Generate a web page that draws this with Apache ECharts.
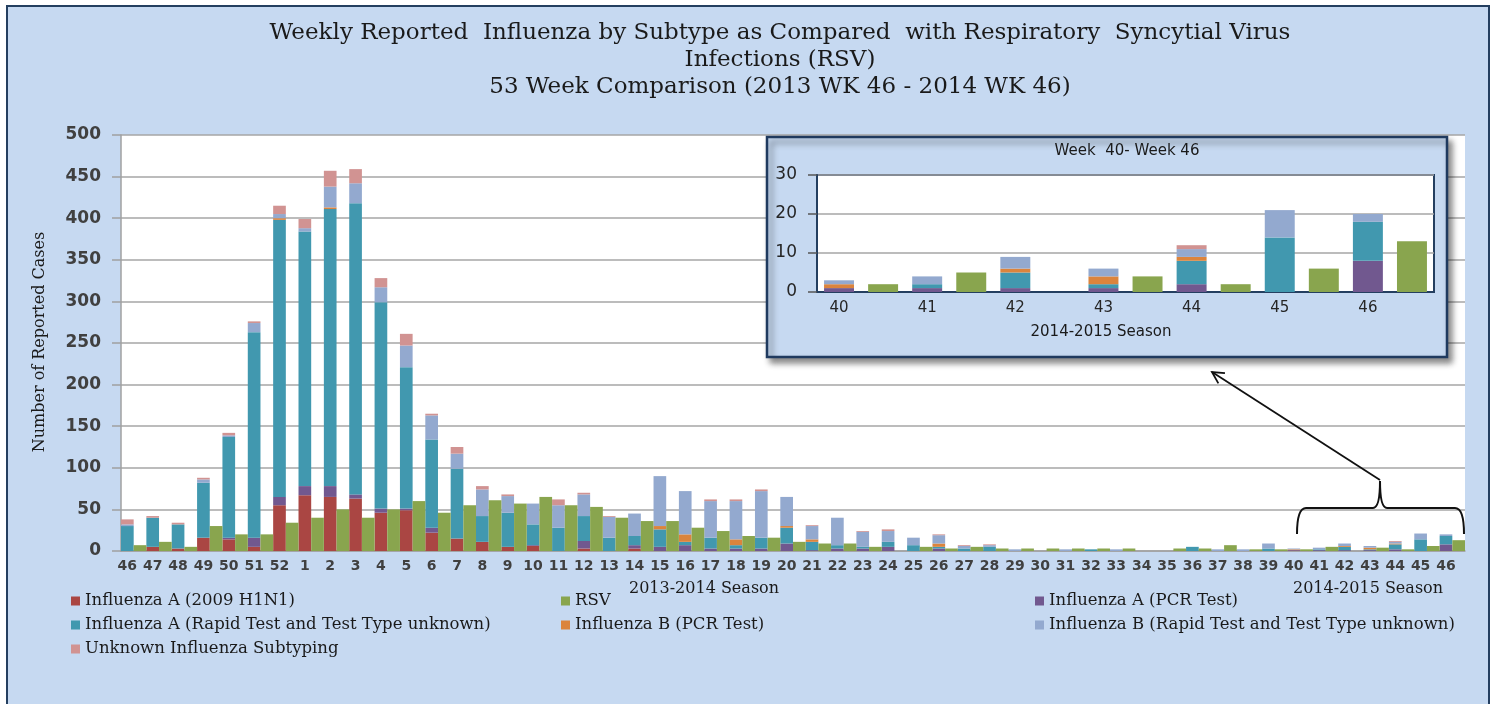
<!DOCTYPE html>
<html><head><meta charset="utf-8">
<script src="https://cdn.jsdelivr.net/npm/echarts@6/dist/echarts.min.js"></script>
<style>
html,body{margin:0;padding:0;background:#fff;width:1496px;height:704px;overflow:hidden;}
#frame{position:absolute;left:6px;top:5px;width:1480px;height:720px;background:#C6D9F1;border:2px solid #243F60;}
#chart{position:absolute;left:0;top:0;width:1496px;height:704px;}
</style></head><body><div id="frame"></div><div id="chart"></div>
<script>
// ---- DATA ----
const weeks = [46,47,48,49,50,51,52,1,2,3,4,5,6,7,8,9,10,11,12,13,14,15,16,17,18,19,20,21,22,23,24,25,26,27,28,29,30,31,32,33,34,35,36,37,38,39,40,41,42,43,44,45,46];
const h1n1 =    [0,5,3,16,14,5,55, 67,65,63,46,49,22,15,11,5,6,0,3,0,3,0,0,0,0,0,0,0,0,0,0,0,0,0,0,0,0,0,0,0,0,0,0,0,0,0,0,0,0,0,0,0,0];
const pcrA =    [0,0,0,0,2,11,10, 11,13,5,5,2,6,0,0,0,1,0,9,0,4,5,7,3,3,3,9,1,3,3,5,0,3,0,0,0,0,0,0,0,0,0,0,0,0,0,1,1,1,1,2,0,8];
const rapidA =  [30,35,29,66,121,247,333, 306,333,350,248,170,106,84,31,41,25,28,30,16,11,21,4,13,4,13,19,10,4,2,6,7,2,3,5,0,0,0,2,0,0,0,5,0,0,3,0,1,4,1,6,14,10];
const pcrB =    [0,0,0,0,0,0,2, 0,2,0,0,0,0,0,0,0,0,0,0,0,0,4,9,0,7,0,2,3,0,0,0,0,4,0,0,0,0,0,0,0,0,0,0,0,0,0,1,0,1,2,1,0,0];
const rapidB =  [2,0,0,4,2,11,5, 4,25,24,18,26,29,18,32,20,25,27,26,25,27,60,52,44,46,56,35,16,33,18,13,9,10,3,2,2,0,2,0,2,0,0,0,2,2,6,1,2,3,2,2,7,2];
const unknownS =[6,2,2,2,3,2,10, 11,19,17,11,14,2,8,4,2,0,7,2,1,0,0,0,2,2,2,0,1,0,1,2,0,1,1,1,0,0,0,0,0,0,0,0,0,0,0,0,0,0,0,1,0,0];
const rsv =     [7,11,5,30,20,20,34, 40,50,40,50,60,46,55,61,57,65,55,53,40,36,36,28,24,18,16,11,9,9,5,0,5,3,5,3,3,3,3,3,3,0,3,3,7,2,2,2,5,0,4,2,6,13];
const yTicksMain = {min:0, max:500, interval:50};
const yTicksInset = {min:0, max:30, interval:10};
const insetCount = 7; // weeks 40-46 of the 2014-2015 season

const names = ['Influenza A (2009 H1N1)','Influenza A (PCR Test)','Influenza A (Rapid Test and Test Type unknown)','Influenza B (PCR Test)','Influenza B (Rapid Test and Test Type unknown)','Unknown Influenza Subtyping','RSV'];
const colors = ['#AA4643','#71588F','#4198AF','#DB843D','#93A9CF','#D19392','#89A54E'];
const fluArrays = [h1n1,pcrA,rapidA,pcrB,rapidB,unknownS];

// ---- BUILD ----
const slotLabels = weeks.flatMap(w => [String(w), '']);
const insetWeeks = weeks.slice(-insetCount);
const insetLabels = insetWeeks.flatMap(w => [String(w), '']);

const series = [];
fluArrays.forEach((arr,i) => {
  series.push({name:names[i], type:'bar', stack:'main', xAxisIndex:0, yAxisIndex:0,
    barCategoryGap:'0%', barGap:'0%', itemStyle:{color:colors[i]},
    data: arr.flatMap(v => [v,'-'])});
});
series.push({name:'RSV', type:'bar', stack:'main', xAxisIndex:0, yAxisIndex:0,
  barCategoryGap:'0%', barGap:'0%', itemStyle:{color:colors[6]},
  data: rsv.flatMap(v => ['-',v])});
fluArrays.forEach((arr,i) => {
  series.push({name:names[i], type:'bar', stack:'inset', xAxisIndex:1, yAxisIndex:1, z:13,
    barCategoryGap:'32%', itemStyle:{color:colors[i]},
    data: arr.slice(-insetCount).flatMap(v => [v,'-'])});
});
series.push({name:'RSV', type:'bar', stack:'inset', xAxisIndex:1, yAxisIndex:1, z:13,
  barCategoryGap:'32%', itemStyle:{color:colors[6]},
  data: rsv.slice(-insetCount).flatMap(v => ['-',v])});

const serif = 'DejaVu Serif';
const sans = 'DejaVu Sans';
const legendCommon = {orient:'vertical', icon:'rect', itemWidth:9, itemHeight:9, itemGap:6, selectedMode:false,
  textStyle:{fontFamily:serif, fontSize:16.5, color:'#1a1a1a', lineHeight:18}};

// arrow
const tail = [1380, 480], head = [1212, 372];
const dx = tail[0]-head[0], dy = tail[1]-head[1], L = Math.hypot(dx,dy);
const ux = dx/L, uy = dy/L, ang = 28*Math.PI/180, wl = 13;
function rot(x,y,a){return [x*Math.cos(a)-y*Math.sin(a), x*Math.sin(a)+y*Math.cos(a)];}
const w1 = rot(ux,uy,ang), w2 = rot(ux,uy,-ang);
const inkStyle = {fill:null, stroke:'#111', lineWidth:2};

const option = {
  animation:false,
  backgroundColor:'transparent',
  grid:[
    {left:121, top:135, width:1344, height:416, show:true, backgroundColor:'#ffffff', borderWidth:0, z:0},
    {left:817, top:175, width:617, height:117, show:true, backgroundColor:'#ffffff', borderColor:'#243F60', borderWidth:2, z:11}
  ],
  xAxis:[
    {type:'category', gridIndex:0, data:slotLabels, axisTick:{show:false},
     axisLine:{lineStyle:{color:'#A0A0A0', width:1.5}},
     axisLabel:{interval:0, margin:8, fontFamily:sans, fontSize:14, fontWeight:'bold', color:'#404040'}},
    {type:'category', gridIndex:1, data:insetLabels, axisTick:{show:false}, z:12,
     axisLine:{lineStyle:{color:'#243F60', width:2}},
     axisLabel:{interval:0, margin:9, fontFamily:sans, fontSize:15, color:'#262626'}}
  ],
  yAxis:[
    {type:'value', gridIndex:0, min:yTicksMain.min, max:yTicksMain.max, interval:yTicksMain.interval,
     axisLine:{show:true, lineStyle:{color:'#A0A0A0', width:1.5}},
     axisTick:{show:true, length:9, lineStyle:{color:'#A0A0A0', width:1.5}},
     splitLine:{lineStyle:{color:'#A6A6A6', width:1.5}},
     axisLabel:{margin:20, fontFamily:sans, fontSize:17, fontWeight:'bold', color:'#404040'}},
    {type:'value', gridIndex:1, min:yTicksInset.min, max:yTicksInset.max, interval:yTicksInset.interval, z:12,
     axisLine:{show:true, lineStyle:{color:'#243F60', width:2}},
     axisTick:{show:true, length:9, lineStyle:{color:'#555', width:1.5}},
     splitLine:{lineStyle:{color:'#A6A6A6', width:1.5}},
     axisLabel:{margin:20, fontFamily:sans, fontSize:17, color:'#262626'}}
  ],
  legend:[
    Object.assign({left:66, top:587, data:[names[0],names[2],names[5]]}, legendCommon),
    Object.assign({left:556, top:587, data:[names[6],names[3]]}, legendCommon),
    Object.assign({left:1030, top:587, data:[names[1],names[4]]}, legendCommon)
  ],
  graphic:[
    {type:'text', z:20, style:{x:780, y:60, text:'Weekly Reported  Influenza by Subtype as Compared  with Respiratory  Syncytial Virus\nInfections (RSV)\n53 Week Comparison (2013 WK 46 - 2014 WK 46)',
      textAlign:'center', textVerticalAlign:'middle', font:'23px "DejaVu Serif"', lineHeight:27, fill:'#1a1a1a'}},
    {type:'text', z:20, x:40, y:342, rotation:Math.PI/2, style:{x:0, y:0, text:'Number of Reported Cases', textAlign:'center', textVerticalAlign:'middle', font:'16px "DejaVu Serif"', fill:'#1a1a1a'}},
    {type:'text', z:20, style:{x:704, y:589, text:'2013-2014 Season', textAlign:'center', textVerticalAlign:'middle', font:'16px "DejaVu Serif"', fill:'#1a1a1a'}},
    {type:'text', z:20, style:{x:1368, y:589, text:'2014-2015 Season', textAlign:'center', textVerticalAlign:'middle', font:'16px "DejaVu Serif"', fill:'#1a1a1a'}},
    {type:'rect', z:10, shape:{x:767, y:137, width:680, height:220}, style:{fill:'#C6D9F1', stroke:'#1F3A5F', lineWidth:2.5, shadowBlur:6, shadowOffsetX:4, shadowOffsetY:5, shadowColor:'rgba(0,0,0,0.45)'}},
    {type:'text', z:14, style:{x:1127, y:151, text:'Week  40- Week 46', textAlign:'center', textVerticalAlign:'middle', font:'15px "DejaVu Sans"', fill:'#1a1a1a'}},
    {type:'text', z:14, style:{x:1101, y:332, text:'2014-2015 Season', textAlign:'center', textVerticalAlign:'middle', font:'15px "DejaVu Sans"', fill:'#1a1a1a'}},
    {type:'bezierCurve', z:15, shape:{x1:1297, y1:534, x2:1306, y2:508, cpx1:1297, cpy1:508}, style:inkStyle},
    {type:'line', z:15, shape:{x1:1306, y1:508, x2:1373, y2:508}, style:inkStyle},
    {type:'bezierCurve', z:15, shape:{x1:1373, y1:508, x2:1380, y2:481, cpx1:1380, cpy1:508}, style:inkStyle},
    {type:'bezierCurve', z:15, shape:{x1:1380, y1:481, x2:1387, y2:508, cpx1:1380, cpy1:508}, style:inkStyle},
    {type:'line', z:15, shape:{x1:1387, y1:508, x2:1455, y2:508}, style:inkStyle},
    {type:'bezierCurve', z:15, shape:{x1:1455, y1:508, x2:1464, y2:534, cpx1:1464, cpy1:508}, style:inkStyle},
    {type:'line', z:15, shape:{x1:tail[0], y1:tail[1], x2:head[0], y2:head[1]}, style:{stroke:'#111', lineWidth:1.8}},
    {type:'polyline', z:15, shape:{points:[[head[0]+w1[0]*wl, head[1]+w1[1]*wl],[head[0],head[1]],[head[0]+w2[0]*wl, head[1]+w2[1]*wl]]}, style:{fill:null, stroke:'#111', lineWidth:1.8}}
  ],
  series: series
};
const chart = echarts.init(document.getElementById('chart'), null, {renderer:'canvas'});
chart.setOption(option);
</script></body></html>
